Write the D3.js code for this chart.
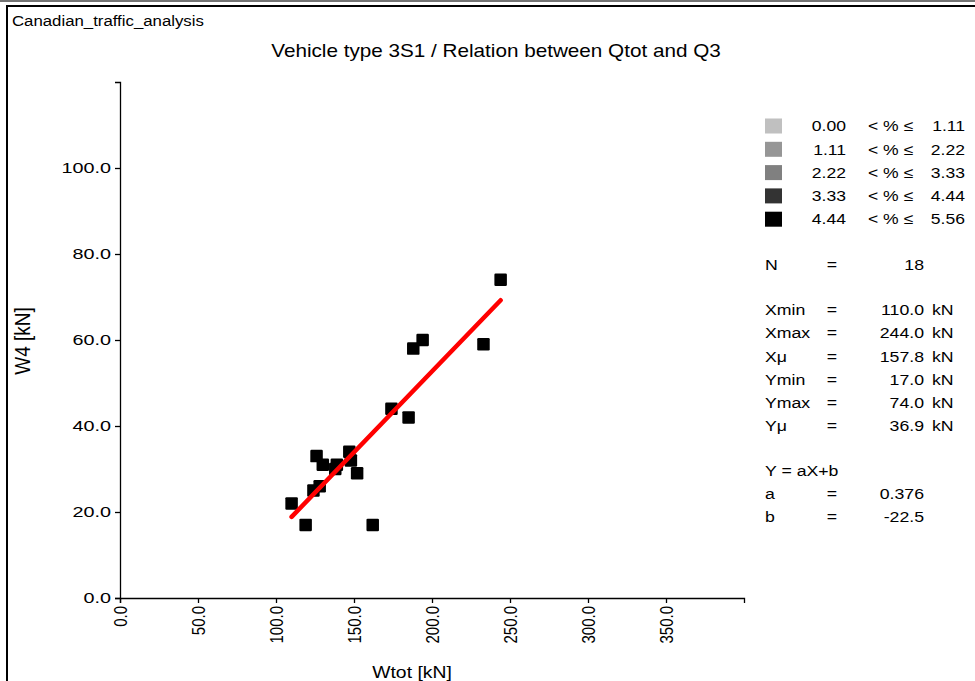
<!DOCTYPE html>
<html>
<head>
<meta charset="utf-8">
<script src="https://cdn.jsdelivr.net/npm/d3@7"></script>
<style>
  body { margin: 0; background: #fff; }
  text { font-family: "Liberation Sans", Arial, sans-serif; fill: #000; }
</style>
</head>
<body>
<svg id="chart" width="975" height="681"></svg>
<script>
// Axle-load observations: total weight vs. fourth-axle weight (kN)
const wtot = [110, 119, 124, 128, 126, 130, 138, 139, 147, 148, 152, 162, 174, 185, 188, 194, 233, 244];
const w4   = [22, 17, 25, 26, 33, 31, 30, 31, 34, 32, 29, 17, 44, 42, 58, 60, 59, 74];
// frequency class of each point (index into legend classes)
const pointClass = [4, 4, 4, 4, 4, 4, 4, 4, 4, 4, 4, 4, 4, 4, 4, 4, 4, 4];

const legendLower  = ["0.00", "1.11", "2.22", "3.33", "4.44"];
const legendUpper  = ["1.11", "2.22", "3.33", "4.44", "5.56"];
const legendColors = ["#c0c0c0", "#969696", "#808080", "#333333", "#000000"];

const xTicks = [0, 50, 100, 150, 200, 250, 300, 350];
const yTicks = [0, 20, 40, 60, 80, 100];

const nCount = 18;
const statLabels = ["Xmin", "Xmax", "X\u03BC", "Ymin", "Ymax", "Y\u03BC"];
const statValues = ["110.0", "244.0", "157.8", "17.0", "74.0", "36.9"];
const slopeA = 0.376;
const interceptB = -22.5;
const fitXmin = 110, fitXmax = 244;

const svg = d3.select("#chart");

// text helper: wide-set glyphs via a horizontal scale
function label(parent, x, y, str, o = {}) {
  const sx = o.sx || 1;
  let tf = `translate(${x},${y}) scale(${sx},1)`;
  if (o.rotate) tf += ` rotate(${o.rotate})`;
  return parent.append("text")
    .attr("transform", tf)
    .attr("font-size", o.size || 15)
    .attr("text-anchor", o.anchor || "start")
    .attr("dy", o.dy || null)
    .text(str);
}

// page frame
svg.append("line").attr("x1", 0).attr("x2", 975).attr("y1", 1).attr("y2", 1)
  .attr("stroke", "#444").attr("stroke-width", 1.5);
svg.append("line").attr("x1", 6).attr("x2", 975).attr("y1", 6).attr("y2", 6)
  .attr("stroke", "#000").attr("stroke-width", 2);
svg.append("line").attr("x1", 7).attr("x2", 7).attr("y1", 5).attr("y2", 681)
  .attr("stroke", "#000").attr("stroke-width", 2);

label(svg, 12, 26, "Canadian_traffic_analysis", { size: 15, sx: 1.12 });
label(svg, 496, 57, "Vehicle type 3S1 / Relation between Qtot and Q3",
  { size: 18, sx: 1.15, anchor: "middle" });

// scales
const x = d3.scaleLinear().domain([0, 400]).range([120, 744]);
const y = d3.scaleLinear().domain([0, 120]).range([598, 82]);

const fmt = d3.format(".1f");

const gx = svg.append("g").attr("transform", "translate(0,598)")
  .call(d3.axisBottom(x).tickValues(xTicks).tickFormat(fmt).tickSizeOuter(0).tickSize(5));
gx.selectAll("text")
  .attr("font-size", 15)
  .attr("font-family", "Liberation Sans, Arial, sans-serif")
  .attr("transform", "scale(1.2,1) rotate(-90)")
  .attr("text-anchor", "end")
  .attr("x", -8).attr("y", 0).attr("dy", "0.35em");

const ySx = 1.32;
const gy = svg.append("g").attr("transform", "translate(120,0)")
  .call(d3.axisLeft(y).tickValues(yTicks).tickFormat(fmt).tickSizeOuter(0).tickSize(5));
gy.selectAll("text")
  .attr("font-size", 15)
  .attr("font-family", "Liberation Sans, Arial, sans-serif")
  .attr("transform", `scale(${ySx},1)`)
  .attr("x", -9 / ySx);

svg.selectAll(".domain, .tick line").attr("stroke", "#000").attr("stroke-width", 1.3);

label(svg, 30, 341, "W4 [kN]", { size: 19, sx: 1.15, rotate: -90, anchor: "middle" });
label(svg, 412, 678, "Wtot [kN]", { size: 16, sx: 1.21, anchor: "middle" });

// points
const pts = wtot.map((v, i) => ({ x: v, y: w4[i], c: pointClass[i] }));
const sq = 12.5;
svg.append("g").selectAll("rect").data(pts).join("rect")
  .attr("x", d => x(d.x) - sq / 2)
  .attr("y", d => y(d.y) - sq / 2)
  .attr("width", sq).attr("height", sq).attr("rx", 1.2)
  .attr("fill", d => legendColors[d.c]);

// regression line Y = aX + b over the observed X range
svg.append("line")
  .attr("x1", x(fitXmin)).attr("y1", y(slopeA * fitXmin + interceptB))
  .attr("x2", x(fitXmax)).attr("y2", y(slopeA * fitXmax + interceptB))
  .attr("stroke", "#ff0000").attr("stroke-width", 4.5).attr("stroke-linecap", "round");

// legend
const lg = svg.append("g");
const rowH = 23.3;
const lsx = 1.17;
legendLower.forEach((lo, i) => {
  const cy = 126 + i * rowH;
  lg.append("rect").attr("x", 765).attr("y", cy - 7.5).attr("width", 17).attr("height", 15)
    .attr("fill", legendColors[i]);
  label(lg, 846, cy, lo, { anchor: "end", dy: "0.35em", sx: lsx });
  label(lg, 868, cy, "< % \u2264", { dy: "0.35em", sx: lsx });
  label(lg, 965, cy, legendUpper[i], { anchor: "end", dy: "0.35em", sx: lsx });
});

// summary statistics
const st = svg.append("g");
const ssx = 1.18;
function statRow(cy, name, value, unit) {
  label(st, 765, cy, name, { dy: "0.35em", sx: ssx });
  if (value !== null) {
    label(st, 832, cy, "=", { dy: "0.35em", sx: ssx, anchor: "middle" });
    label(st, 924, cy, value, { dy: "0.35em", sx: ssx, anchor: "end" });
  }
  if (unit) label(st, 932, cy, unit, { dy: "0.35em", sx: ssx });
}
statRow(265, "N", String(nCount), null);
statLabels.forEach((lab, i) => statRow(310 + i * 23.2, lab, statValues[i], "kN"));
statRow(471, "Y = aX+b", null, null);
statRow(494, "a", String(slopeA), null);
statRow(517, "b", String(interceptB), null);
</script>
</body>
</html>
